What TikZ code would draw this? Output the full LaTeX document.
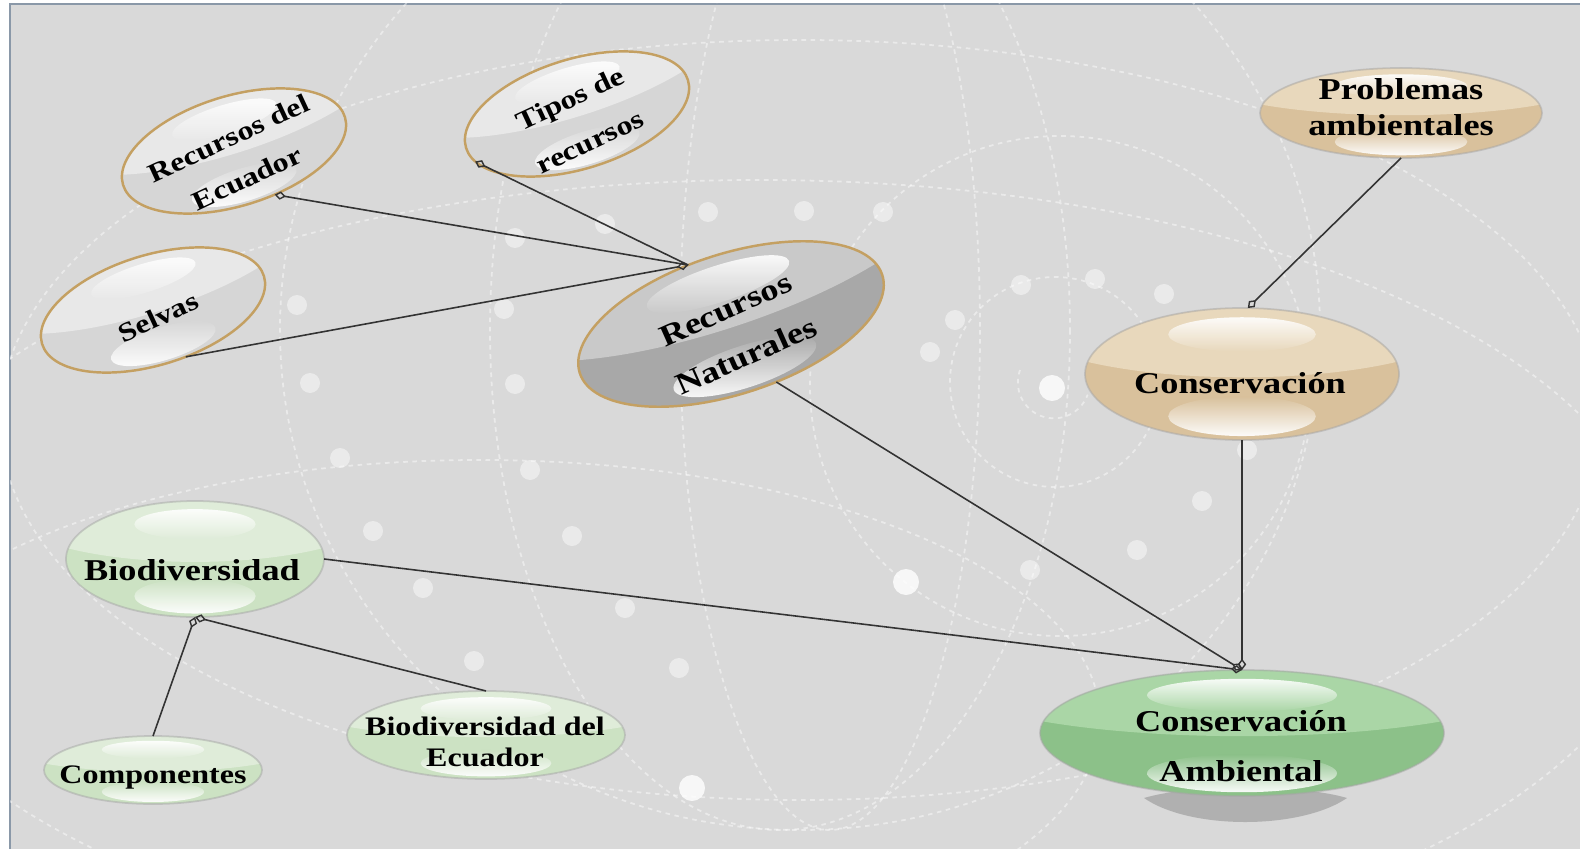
\documentclass[tikz,border=0pt]{standalone}
\usepackage{fontspec}
\newfontfamily\labfont[FakeStretch=1.2]{Liberation Serif}
\usetikzlibrary{shapes.geometric,arrows.meta}
\definecolor{bg}{HTML}{D9D9D9}
\definecolor{bordercol}{HTML}{8A98A8}
\definecolor{gold}{HTML}{C4A062}
\definecolor{graytop}{HTML}{E8E8E8}
\definecolor{graylow}{HTML}{D6D6D6}
\definecolor{rntop}{HTML}{C9C9C9}
\definecolor{rnlow}{HTML}{A8A8A8}
\definecolor{tantop}{HTML}{E8D8BC}
\definecolor{tanlow}{HTML}{D9C19C}
\definecolor{lgtop}{HTML}{DFECD9}
\definecolor{lglow}{HTML}{CCE2C3}
\definecolor{gtop}{HTML}{AAD6A6}
\definecolor{glow}{HTML}{8CC189}
\definecolor{linecol}{HTML}{333333}
\tikzset{
  goldline/.style={draw=gold, line width=0.7pt},
  softline/.style={draw=black!35, line width=0.5pt, draw opacity=0.5},
  shp/.style={ellipse, inner sep=0pt, outer sep=0pt, draw=none},
  lbl/.style={align=center, inner sep=0pt, text=black},
  conn/.style={draw=linecol, line width=0.45pt},
  dmd/.style={{Diamond[open,length=3.2pt,width=2.4pt,line width=0.4pt]}-},
  dmdend/.style={-{Diamond[open,length=3.2pt,width=2.4pt,line width=0.4pt]}},
  bgline/.style={draw=white, draw opacity=0.45, line width=0.5pt, dash pattern=on 1.3pt off 1.3pt},
  dot/.style={fill=white, fill opacity=0.45},
  bigdot/.style={fill=white, fill opacity=0.8},
}
% #1 cx, #2 cy, #3 angle, #4 a, #5 b, #6 upper colour, #7 lower colour, #8 outline style
\newcommand{\glossell}[8]{%
 \begin{scope}[shift={(#1,#2)},rotate=#3,x=0.01cm,y=0.01cm]
  \fill[#7] (0,0) ellipse [x radius=#4, y radius=#5];
  \begin{scope}
   \clip (0,0) ellipse [x radius=#4, y radius=#5];
   \fill[#6] (0,{0.9*#5}) ellipse [x radius={1.5*#4}, y radius={0.95*#5}];
   \shade[top color=white, bottom color=#6, opacity=0.9] (0,{0.6*#5}) ellipse [x radius={0.47*#4}, y radius={0.26*#5}];
   \shade[top color=#7, bottom color=white, opacity=0.95] (0,{-0.64*#5}) ellipse [x radius={0.47*#4}, y radius={0.3*#5}];
  \end{scope}
  \draw[#8] (0,0) ellipse [x radius=#4, y radius=#5];
 \end{scope}}
\begin{document}
\begin{tikzpicture}[x=0.01cm,y=-0.01cm]
\useasboundingbox (0,0) rectangle (1580,849);
\fill[white] (0,0) rectangle (1580,849);
\fill[bg] (10,4) rectangle (1580,849);
\draw[bordercol, line width=0.6pt] (10,849) -- (10,4) -- (1580,4);

% background decoration
\begin{scope}
\clip (10,4) rectangle (1580,849);
\draw[bgline] (800,330) ellipse [x radius=520, y radius=500];
\draw[bgline] (780,330) ellipse [x radius=290, y radius=500];
\draw[bgline] (830,330) ellipse [x radius=150, y radius=500];
\draw[bgline] (800,420) ellipse [x radius=800, y radius=380];
\draw[bgline] (760,580) ellipse [x radius=900, y radius=400];
\draw[bgline] (480,720) ellipse [x radius=620, y radius=260];
\draw[bgline] (1060,386) circle [radius=250];
\draw[bgline] (1055,382) circle [radius=105];
\draw[bgline] (1020,370) arc [start angle=200, end angle=20, radius=36];
\foreach \p in {(708,212),(804,211),(883,212),(605,224),(515,238),(1021,285),(1095,279),(1164,294),(297,305),(504,309),(955,320),(930,352),(310,383),(515,384),(340,458),(530,470),(1247,450),(373,531),(572,536),(1202,501),(1137,550),(1030,570),(423,588),(625,608),(474,661),(679,668)}
  \fill[dot] \p circle [radius=10];
\foreach \p in {(1052,388),(906,582),(692,788)}
  \fill[bigdot] \p circle [radius=13];
\end{scope}

% glossy ellipses
\glossell{234}{151}{17}{116}{55}{graytop}{graylow}{goldline}
\glossell{577}{114}{17}{116}{55}{graytop}{graylow}{goldline}
\glossell{153}{310}{17}{116}{55}{graytop}{graylow}{goldline}
\glossell{731}{324}{18}{159}{70}{rntop}{rnlow}{goldline}
\glossell{1401}{113}{0}{141}{45}{tantop}{tanlow}{softline}
\glossell{1242}{374}{0}{157}{66}{tantop}{tanlow}{softline}
\glossell{195}{559}{0}{129}{58}{lgtop}{lglow}{softline}
\glossell{153}{770}{0}{109}{34}{lgtop}{lglow}{softline}
\glossell{486}{735}{0}{139}{44}{lgtop}{lglow}{softline}
\fill[black!35, opacity=0.8] (1144,798) .. controls (1190,784) and (1300,784) .. (1347,798) .. controls (1300,830) and (1190,830) .. (1144,798);
\glossell{1242}{733}{0}{202}{63}{gtop}{glow}{softline}

% shape nodes (for connectors)
\node[shp, rotate=17, minimum width=2.32cm, minimum height=1.10cm] (recec) at (234,151) {};
\node[shp, rotate=17, minimum width=2.32cm, minimum height=1.10cm] (tipos) at (577,114) {};
\node[shp, rotate=17, minimum width=2.32cm, minimum height=1.10cm] (selvas) at (153,310) {};
\node[shp, rotate=18, minimum width=3.18cm, minimum height=1.40cm] (recnat) at (731,324) {};
\node[shp, minimum width=2.82cm, minimum height=0.90cm] (prob) at (1401,113) {};
\node[shp, minimum width=3.14cm, minimum height=1.32cm] (cons) at (1242,374) {};
\node[shp, minimum width=2.58cm, minimum height=1.16cm] (biod) at (195,559) {};
\node[shp, minimum width=2.18cm, minimum height=0.68cm] (comp) at (153,770) {};
\node[shp, minimum width=2.78cm, minimum height=0.88cm] (biodec) at (486,735) {};
\node[shp, minimum width=4.04cm, minimum height=1.26cm] (consamb) at (1242,733) {};

% labels
\node[lbl, rotate=25, font=\labfont\bfseries\fontsize{7.6}{12.5}\selectfont] (recec-t) at (238,158) {Recursos del\\Ecuador};
\node[lbl, rotate=25, font=\labfont\bfseries\fontsize{7.6}{13.5}\selectfont] (tipos-t) at (580,120) {Tipos de\\recursos};
\node[lbl, rotate=25, font=\labfont\bfseries\fontsize{7.6}{9}\selectfont] (selvas-t) at (158,317) {Selvas};
\node[lbl, rotate=24, font=\labfont\bfseries\fontsize{8.6}{14.5}\selectfont] (recnat-t) at (736,333) {Recursos\\Naturales};
\node[lbl, font=\labfont\bfseries\fontsize{8.6}{10.3}\selectfont] (prob-t) at (1401,107) {Problemas\\ambientales};
\node[lbl, font=\labfont\bfseries\fontsize{8.6}{10.3}\selectfont] (cons-t) at (1240,383) {Conservación};
\node[lbl, font=\labfont\bfseries\fontsize{8.6}{10.3}\selectfont] (biod-t) at (192,570) {Biodiversidad};
\node[lbl, font=\labfont\bfseries\fontsize{7.6}{9}\selectfont] (comp-t) at (153,777) {Componentes};
\node[lbl, font=\labfont\bfseries\fontsize{7.6}{8.9}\selectfont] (biodec-t) at (485,742) {Biodiversidad del\\Ecuador};
\node[lbl, font=\labfont\bfseries\fontsize{8.6}{14.3}\selectfont] (consamb-t) at (1241,746) {Conservación\\Ambiental};

% connectors
\draw[conn, dmd] (recec.-64) -- (recnat.108);
\draw[conn, dmd] (tipos.188) -- (recnat.108);
\draw[conn, dmdend] (selvas.-72) -- (recnat.108);
\draw[conn, dmdend] (recnat.-70) -- (consamb.north);
\draw[conn, dmdend] (prob.south) -- (cons.85);
\draw[conn, dmdend] (cons.south) -- (consamb.north);
\draw[conn, dmdend] (biod.east) -- (consamb.north);
\draw[conn, dmd] (biod.south) -- (comp.north);
\draw[conn, dmd] (biod.south) -- (biodec.north);
\end{tikzpicture}
\end{document}
